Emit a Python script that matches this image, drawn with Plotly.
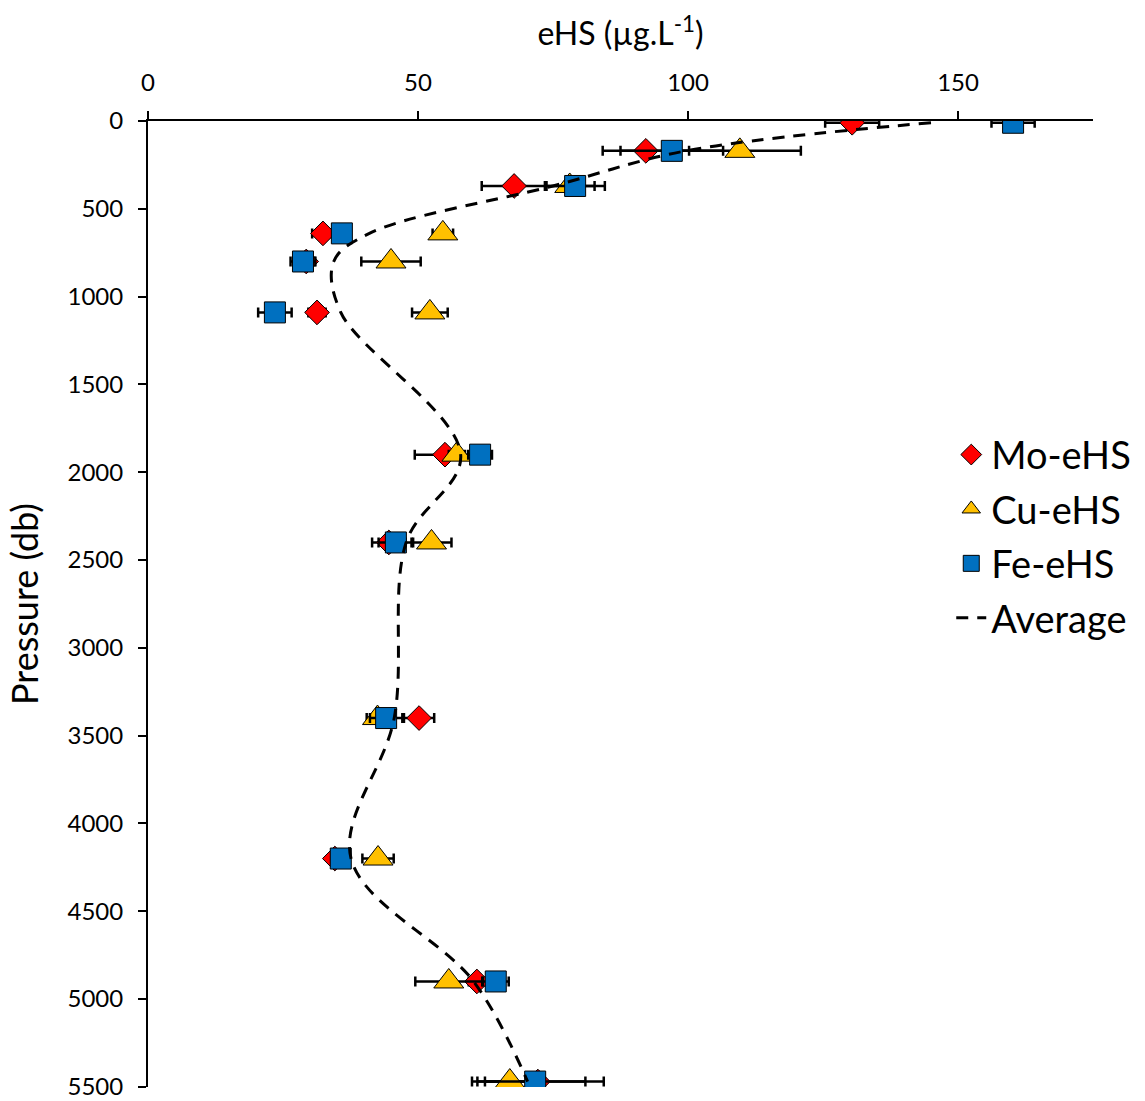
import plotly.graph_objects as go

# Sampling pressures (db)
pressure = [10, 170, 370, 640, 800, 1090, 1900, 2400, 3400, 4200, 4900, 5470]

# Extractable humic substances (ug/L) by method, with standard deviations
mo_ehs = [130.4, 92.2, 67.8, 32.4, 29.3, 31.3, 55.0, 44.6, 50.2, 34.6, 60.9, 72.2]
mo_err = [5.0, 8.0, 6.0, 2.0, 1.5, 1.6, 5.6, 3.1, 2.8, 1.0, 1.5, 12.2]

cu_ehs = [None, 109.6, 78.1, 54.6, 45.0, 52.2, 57.2, 52.5, 42.5, 42.6, 55.7, 67.0]
cu_err = [None, 11.3, 4.6, 1.9, 5.5, 3.3, 1.5, 3.7, 2.0, 2.9, 6.2, 6.0]

fe_ehs = [160.2, 97.0, 79.1, 35.9, 28.7, 23.5, 61.5, 45.9, 44.1, 35.7, 64.4, 71.7]
fe_err = [4.0, 9.5, 5.5, 1.5, 2.3, 3.1, 2.2, 3.2, 3.0, 1.5, 2.4, 9.3]

avg_ehs = [145.0, 99.6, 75.0, 41.0, 34.4, 35.7, 57.9, 47.8, 45.6, 37.6, 60.3, 70.3]

x_ticks = [0, 50, 100, 150]
y_ticks = [0, 500, 1000, 1500, 2000, 2500, 3000, 3500, 4000, 4500, 5000, 5500]

FONT = "Lato"


def err_bar(values):
    return dict(type="data", array=values, visible=True, color="black",
                thickness=2.5, width=5)


fig = go.Figure()

fig.add_trace(go.Scatter(
    x=mo_ehs, y=pressure, mode="markers", name="Mo-eHS", legendgroup="mo",
    error_x=err_bar(mo_err),
    marker=dict(symbol="diamond", size=19, color="#FF0000",
                line=dict(color="black", width=1)),
))
fig.add_trace(go.Scatter(
    x=cu_ehs, y=pressure, mode="markers", name="Cu-eHS", legendgroup="cu",
    error_x=err_bar(cu_err),
    marker=dict(symbol="triangle-up", size=26, color="#FFC000",
                line=dict(color="black", width=1)),
))
fig.add_trace(go.Scatter(
    x=fe_ehs, y=pressure, mode="markers", name="Fe-eHS", legendgroup="fe",
    error_x=err_bar(fe_err),
    marker=dict(symbol="square", size=21, color="#0070C0",
                line=dict(color="black", width=1)),
))
fig.add_trace(go.Scatter(
    x=avg_ehs, y=pressure, mode="lines", name="Average", legendgroup="avg",
    line=dict(color="black", width=3, dash="12px,9px", shape="spline",
              smoothing=1.0),
))

fig.update_layout(
    width=1145, height=1101,
    margin=dict(l=148, r=52, t=121, b=14, autoexpand=False),
    paper_bgcolor="white", plot_bgcolor="white",
    font=dict(family=FONT, size=24, color="black"),
    showlegend=True,
    legend=dict(
        x=0.85, y=0.687, xanchor="left", yanchor="top",
        font=dict(family=FONT, size=38, color="black"),
        bgcolor="rgba(0,0,0,0)",
        tracegroupgap=2,
    ),
    xaxis=dict(
        side="top", range=[0, 175], tickvals=x_ticks,
        ticks="outside", ticklen=8, tickwidth=2, tickcolor="black",
        ticklabelstandoff=10, automargin=False,
        showline=True, linecolor="black", linewidth=2,
        showgrid=False, zeroline=False,
        tickfont=dict(family=FONT, size=24),
        title=dict(text="eHS (µg.L<sup>-1</sup>)",
                   font=dict(family=FONT, size=32), standoff=12),
    ),
    yaxis=dict(
        range=[5501, 0], tickvals=y_ticks,
        ticks="outside", ticklen=8, tickwidth=2, tickcolor="black",
        ticklabelstandoff=10, ticklabeloverflow="allow", automargin=False,
        showline=True, linecolor="black", linewidth=2,
        showgrid=False, zeroline=False,
        tickfont=dict(family=FONT, size=24),
        title=dict(text="Pressure (db)",
                   font=dict(family=FONT, size=36), standoff=18),
    ),
)

fig.write_html("out.html")
